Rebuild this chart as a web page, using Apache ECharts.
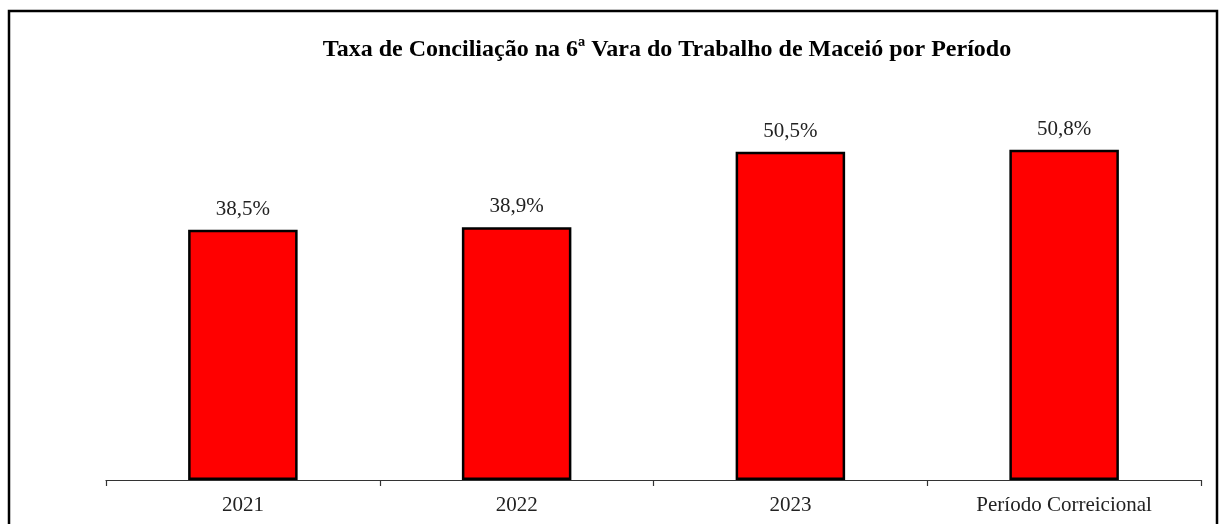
<!DOCTYPE html>
<html>
<head>
<meta charset="utf-8">
<script src="https://cdn.jsdelivr.net/npm/echarts@6/dist/echarts.min.js"></script>
<style>
  html, body { margin: 0; padding: 0; background: #fff; }
  #chart { width: 1223px; height: 524px; }
</style>
</head>
<body>
<div id="chart"></div>
<script>
const titleText = 'Taxa de Conciliação na 6ª Vara do Trabalho de Maceió por Período'
const periods = ['2021', '2022', '2023', 'Período Correicional']
const rates = [38.5, 38.9, 50.5, 50.8]

const serif = '"Liberation Serif", "DejaVu Serif", serif'

const chart = echarts.init(document.getElementById('chart'))
chart.setOption({
  animation: false,
  title: {
    text: titleText,
    left: 662,
    top: 33,
    textAlign: 'center',
    textStyle: { fontFamily: serif, fontWeight: 'bold', fontSize: 24, color: '#000' }
  },
  graphic: [{
    type: 'rect',
    shape: { x: 9, y: 11, width: 1208, height: 540 },
    style: { fill: 'none', stroke: '#000', lineWidth: 2.5 },
    silent: true
  }],
  grid: { left: 106, right: 22, top: 90, bottom: 44 },
  xAxis: {
    type: 'category',
    data: periods,
    axisLine: { lineStyle: { color: '#333', width: 1.2 } },
    axisTick: { show: true, length: 6, lineStyle: { color: '#333', width: 1.2 } },
    axisLabel: { fontFamily: serif, fontSize: 21, color: '#222', margin: 15 }
  },
  yAxis: {
    type: 'value',
    min: 0,
    max: 60,
    show: false
  },
  series: [{
    type: 'bar',
    data: rates,
    barWidth: '40%',
    itemStyle: { color: '#ff0000', borderColor: '#000', borderWidth: 2.5 },
    label: {
      show: true,
      position: 'top',
      distance: 10,
      fontFamily: serif,
      fontSize: 21,
      color: '#222',
      formatter: p => p.value.toFixed(1).replace('.', ',') + '%'
    }
  }]
})
</script>
</body>
</html>
